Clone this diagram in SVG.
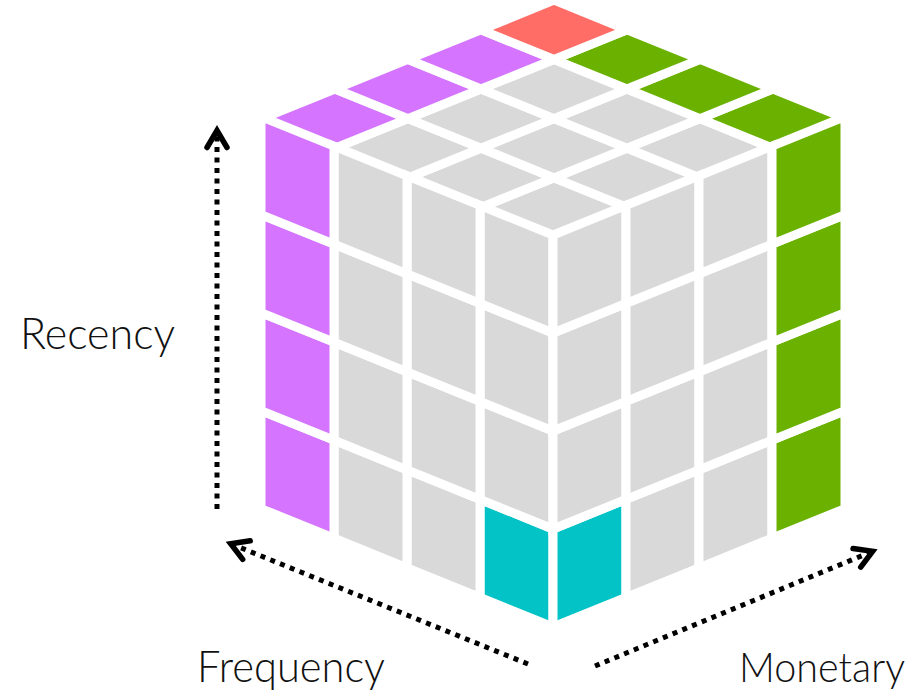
<svg xmlns="http://www.w3.org/2000/svg" width="916" height="696" viewBox="0 0 916 696">
  <style>
    .tile { stroke: #ffffff; stroke-width: 9; stroke-linejoin: miter; }
    .gray { fill: #d9d9d9; }
    .purple { fill: #d474ff; }
    .green { fill: #6ab100; }
    .red { fill: #ff6d66; }
    .cyan { fill: #03c3c6; }
    .axis { fill: none; stroke: #000000; stroke-width: 5; stroke-dasharray: 5 5.5; }
    .label { font-family: "Lato", "Liberation Sans", "DejaVu Sans", sans-serif; font-weight: 300; font-size: 44px; fill: #111111; }
  </style>
  <defs>
    <marker id="chevron" markerUnits="userSpaceOnUse" markerWidth="40" markerHeight="40" viewBox="-30 -20 40 40" refX="0" refY="0" orient="auto" overflow="visible">
      <path d="M -17 -10 L 0 0 L -17 10" fill="none" stroke="#000000" stroke-width="5.5" stroke-linecap="round" stroke-linejoin="miter"/>
    </marker>
  </defs>

  <!-- 4x4x4 cube, three visible faces -->
  <g id="cube">
    <g id="face-top">
      <polygon class="tile gray" points="554,237 481,207.4 554,177.8 627,207.4"/>
      <polygon class="tile gray" points="627,207.4 554,177.8 627,148.2 700,177.8"/>
      <polygon class="tile gray" points="700,177.8 627,148.2 700,118.6 773,148.2"/>
      <polygon class="tile green" points="773,148.2 700,118.6 773,89 846,118.6"/>
      <polygon class="tile gray" points="481,207.4 408,177.8 481,148.2 554,177.8"/>
      <polygon class="tile gray" points="554,177.8 481,148.2 554,118.6 627,148.2"/>
      <polygon class="tile gray" points="627,148.2 554,118.6 627,89 700,118.6"/>
      <polygon class="tile green" points="700,118.6 627,89 700,59.4 773,89"/>
      <polygon class="tile gray" points="408,177.8 335,148.2 408,118.6 481,148.2"/>
      <polygon class="tile gray" points="481,148.2 408,118.6 481,89 554,118.6"/>
      <polygon class="tile gray" points="554,118.6 481,89 554,59.4 627,89"/>
      <polygon class="tile green" points="627,89 554,59.4 627,29.8 700,59.4"/>
      <polygon class="tile purple" points="335,148.2 262,118.6 335,89 408,118.6"/>
      <polygon class="tile purple" points="408,118.6 335,89 408,59.4 481,89"/>
      <polygon class="tile purple" points="481,89 408,59.4 481,29.8 554,59.4"/>
      <polygon class="tile red" points="554,59.4 481,29.8 554,0.2 627,29.8"/>
    </g>

    <g id="face-left">
      <polygon class="tile cyan" points="553,627 480,597.4 480,499.4 553,529"/>
      <polygon class="tile gray" points="553,529 480,499.4 480,401.4 553,431"/>
      <polygon class="tile gray" points="553,431 480,401.4 480,303.4 553,333"/>
      <polygon class="tile gray" points="553,333 480,303.4 480,205.4 553,235"/>
      <polygon class="tile gray" points="480,597.4 407,567.8 407,469.8 480,499.4"/>
      <polygon class="tile gray" points="480,499.4 407,469.8 407,371.8 480,401.4"/>
      <polygon class="tile gray" points="480,401.4 407,371.8 407,273.8 480,303.4"/>
      <polygon class="tile gray" points="480,303.4 407,273.8 407,175.8 480,205.4"/>
      <polygon class="tile gray" points="407,567.8 334,538.2 334,440.2 407,469.8"/>
      <polygon class="tile gray" points="407,469.8 334,440.2 334,342.2 407,371.8"/>
      <polygon class="tile gray" points="407,371.8 334,342.2 334,244.2 407,273.8"/>
      <polygon class="tile gray" points="407,273.8 334,244.2 334,146.2 407,175.8"/>
      <polygon class="tile purple" points="334,538.2 261,508.6 261,410.6 334,440.2"/>
      <polygon class="tile purple" points="334,440.2 261,410.6 261,312.6 334,342.2"/>
      <polygon class="tile purple" points="334,342.2 261,312.6 261,214.6 334,244.2"/>
      <polygon class="tile purple" points="334,244.2 261,214.6 261,116.6 334,146.2"/>
    </g>

    <g id="face-right">
      <polygon class="tile cyan" points="553,627 626,597.4 626,499.4 553,529"/>
      <polygon class="tile gray" points="553,529 626,499.4 626,401.4 553,431"/>
      <polygon class="tile gray" points="553,431 626,401.4 626,303.4 553,333"/>
      <polygon class="tile gray" points="553,333 626,303.4 626,205.4 553,235"/>
      <polygon class="tile gray" points="626,597.4 699,567.8 699,469.8 626,499.4"/>
      <polygon class="tile gray" points="626,499.4 699,469.8 699,371.8 626,401.4"/>
      <polygon class="tile gray" points="626,401.4 699,371.8 699,273.8 626,303.4"/>
      <polygon class="tile gray" points="626,303.4 699,273.8 699,175.8 626,205.4"/>
      <polygon class="tile gray" points="699,567.8 772,538.2 772,440.2 699,469.8"/>
      <polygon class="tile gray" points="699,469.8 772,440.2 772,342.2 699,371.8"/>
      <polygon class="tile gray" points="699,371.8 772,342.2 772,244.2 699,273.8"/>
      <polygon class="tile gray" points="699,273.8 772,244.2 772,146.2 699,175.8"/>
      <polygon class="tile green" points="772,538.2 845,508.6 845,410.6 772,440.2"/>
      <polygon class="tile green" points="772,440.2 845,410.6 845,312.6 772,342.2"/>
      <polygon class="tile green" points="772,342.2 845,312.6 845,214.6 772,244.2"/>
      <polygon class="tile green" points="772,244.2 845,214.6 845,116.6 772,146.2"/>
    </g>
  </g>

  <!-- dotted axis arrows -->
  <g id="axes">
    <path id="axis-recency" class="axis" d="M 217 509 L 217 130.5" marker-end="url(#chevron)"/>
    <path id="axis-frequency" class="axis" d="M 528 664 L 230.7 543.7" marker-end="url(#chevron)"/>
    <path id="axis-monetary" class="axis" d="M 595 666 L 872.6 551.3" marker-end="url(#chevron)"/>
  </g>

  <g id="labels">
    <g id="label-recency"><text class="label" x="20" y="349" textLength="155" lengthAdjust="spacingAndGlyphs">Recency</text></g>
    <g id="label-frequency"><text class="label" x="197" y="682" textLength="188" lengthAdjust="spacingAndGlyphs">Frequency</text></g>
    <g id="label-monetary"><text class="label" x="905" y="682" text-anchor="end" style="font-size:42px" textLength="166" lengthAdjust="spacingAndGlyphs">Monetary</text></g>
  </g>
</svg>
